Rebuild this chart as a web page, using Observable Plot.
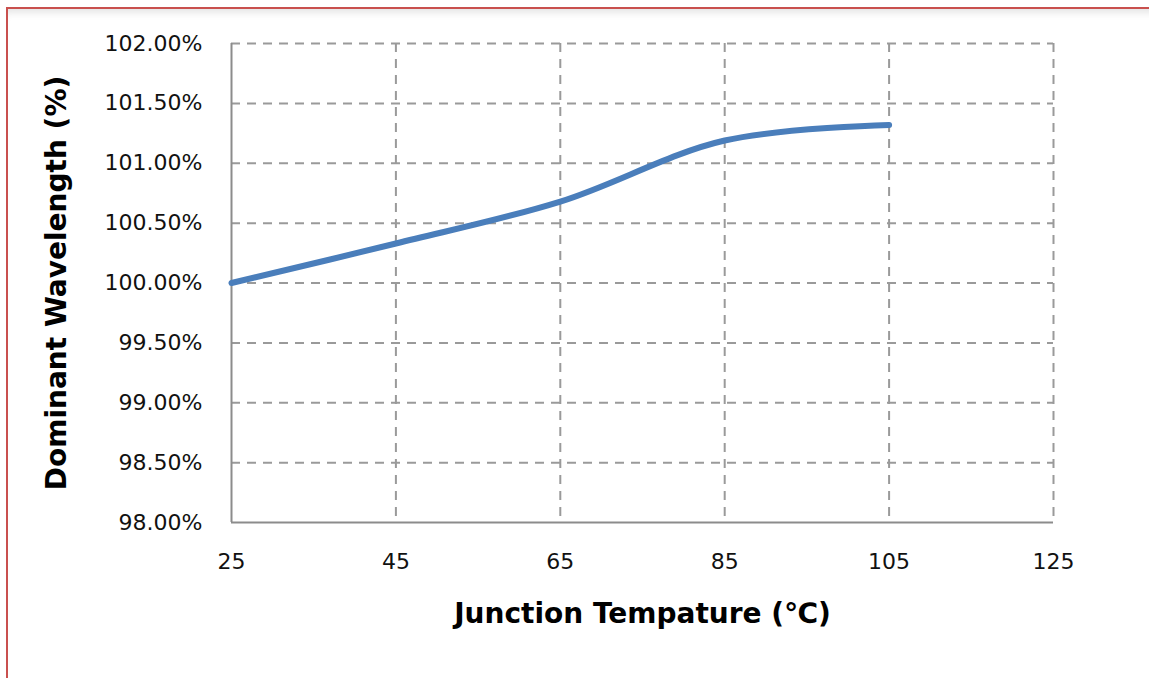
<!DOCTYPE html>
<html>
<head>
<meta charset="utf-8">
<script src="https://cdn.jsdelivr.net/npm/d3@7"></script>
<script src="https://cdn.jsdelivr.net/npm/@observablehq/plot@0.6"></script>
<style>
  html, body { margin: 0; padding: 0; background: #fff; overflow: hidden; }
  #frame { position: absolute; left: 6px; top: 7px; width: 1160px; height: 700px;
           border-left: 2px solid #c9504e; border-top: 2px solid #c9504e;
           box-shadow: inset 0 9px 9px -6px rgba(0,0,0,0.12); }
  #chart { position: absolute; left: 0; top: 0; }
</style>
</head>
<body>
<div id="frame"></div>
<div id="chart"></div>
<script>
const temperature = [25, 45, 65, 85, 105];
const wavelength = [100.00, 100.33, 100.68, 101.19, 101.32];
const xTicks = [25, 45, 65, 85, 105, 125];
const yTicks = [98, 98.5, 99, 99.5, 100, 100.5, 101, 101.5, 102];

const data = temperature.map((t, i) => ({t, w: wavelength[i]}));
const gridStyle = {stroke: "#9a9a9a", strokeOpacity: 1, strokeWidth: 2, strokeDasharray: "9,7"};

const plot = Plot.plot({
  width: 1149,
  height: 678,
  marginLeft: 231,
  marginRight: 96,
  marginTop: 43,
  marginBottom: 156,
  style: {fontFamily: "'DejaVu Sans', sans-serif", fontSize: "22px", color: "#111", background: "transparent"},
  x: {domain: [25, 125]},
  y: {domain: [98, 102]},
  marks: [
    Plot.gridX(xTicks.slice(1), gridStyle),
    Plot.gridY(yTicks.slice(1), gridStyle),
    Plot.ruleX([25], {stroke: "#8c8c8c", strokeWidth: 2}),
    Plot.ruleY([98], {stroke: "#8c8c8c", strokeWidth: 2}),
    Plot.axisX(xTicks, {tickSize: 0, tickPadding: 31, fontSize: 22,
      label: "Junction Tempature (℃)", labelAnchor: "center", labelArrow: "none", labelOffset: 100}),
    Plot.axisY(yTicks, {tickSize: 0, tickPadding: 29, fontSize: 22,
      tickFormat: d => d.toFixed(2) + "%",
      label: "Dominant Wavelength (%)", labelAnchor: "center", labelArrow: "none", labelOffset: 185}),
    Plot.line(data, {x: "t", y: "w", stroke: "#4a7ebb", strokeWidth: 6, strokeLinecap: "round", curve: "catmull-rom"})
  ]
});
document.getElementById("chart").appendChild(plot);
d3.select(plot).selectAll("[aria-label='x-axis label'] text, [aria-label='y-axis label'] text")
  .style("font-size", "28px").style("font-weight", "bold").style("font-family", "'DejaVu Sans', sans-serif").style("fill", "#000");
</script>
</body>
</html>
